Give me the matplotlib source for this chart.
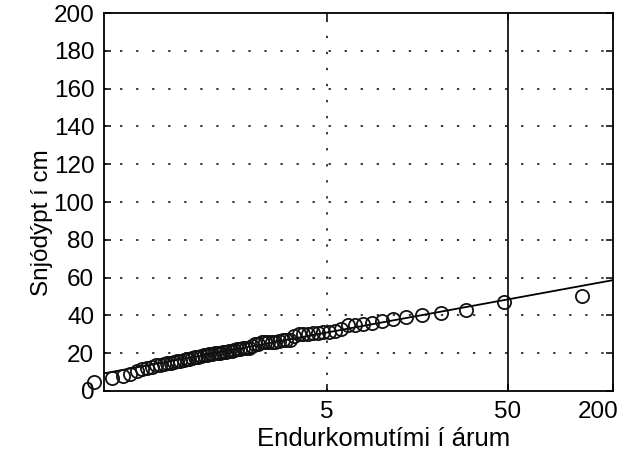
import numpy as np
import matplotlib.pyplot as plt
from matplotlib.transforms import ScaledTranslation

plt.rcParams['font.family'] = ['Liberation Sans', 'DejaVu Sans']

# Snjódýpt (cm), raðað frá minnsta til stærsta gildis (lesið af myndinni)
snow_depth = [4.5, 7, 8, 9, 10.5, 11.5, 12, 12.5, 13.5, 14,
              14.5, 15, 15, 15.5, 16, 16, 16.5, 17, 17, 17.5,
              18, 18, 18.5, 19, 19, 19.5, 19.5, 20, 20, 20,
              20.5, 20.5, 21, 21, 21.5, 22, 22, 22.5, 23, 23,
              24, 25, 25, 26, 26, 26, 26, 26, 26.5, 27,
              27, 27, 29, 30, 30, 30, 30.5, 30.5, 31, 31,
              31.5, 33, 35, 35, 35.5, 36, 37, 38, 39, 40,
              41.5, 43, 47, 50.5]

# Gumbel-lína: snjódýpt = loc + scale * y
gumbel_loc = 20.0
gumbel_scale = 7.3

return_periods = [5, 50, 200]
y_ticks = list(range(0, 201, 20))


def reduced_variate(T):
    T = np.asarray(T, dtype=float)
    return -np.log(-np.log(1 - 1 / T))


# Gringorten plotting positions
n = len(snow_depth)
rank = np.arange(1, n + 1)
F = (rank - 0.44) / (n + 0.12)
x_pts = -np.log(-np.log(F))

x_ticks = reduced_variate(return_periods)
xlim = (-1.46, x_ticks[-1])

fig = plt.figure(figsize=(6.35, 4.58), dpi=100)
ax = fig.add_axes([0.1638, 0.1463, 0.8016, 0.8253])

xs = np.array(xlim)
ax.plot(xs, gumbel_loc + gumbel_scale * xs, color='black', lw=1.3, zorder=2)
ax.plot(x_pts, snow_depth, 'o', mfc='none', mec='#111111', ms=9.5, mew=1.3,
        clip_on=False, zorder=3)

# grid: dotted lines, solid line at 50 years
dots = (0, (1.5, 9))
for yv in y_ticks[1:-1]:
    ax.axhline(yv, color='black', lw=1.1, ls=dots, zorder=1)
ax.axvline(x_ticks[0], color='black', lw=1.1, ls=dots, zorder=1)
ax.axvline(x_ticks[1], color='black', lw=1.2, zorder=1)

ax.set_xlim(*xlim)
ax.set_ylim(0, 200)
ax.set_xticks(x_ticks)
ax.set_xticklabels([str(t) for t in return_periods])
ax.set_yticks(y_ticks)
ax.tick_params(direction='in', length=5, width=1.1, labelsize=17.5,
               top=True, right=True, pad=7)
for s in ax.spines.values():
    s.set_linewidth(1.3)

# færa síðasta merkið aðeins inn svo það haldist innan myndar
last = ax.get_xticklabels()[-1]
last.set_transform(last.get_transform() + ScaledTranslation(-0.15, 0, fig.dpi_scale_trans))

ax.set_xlabel('Endurkomutími í árum', fontsize=18.5)
ax.set_ylabel('Snjódýpt í cm', fontsize=17.5)
ax.xaxis.set_label_coords(0.55, -0.095)
ax.yaxis.set_label_coords(-0.10, 0.445)

fig.savefig('out.png', dpi=100)
